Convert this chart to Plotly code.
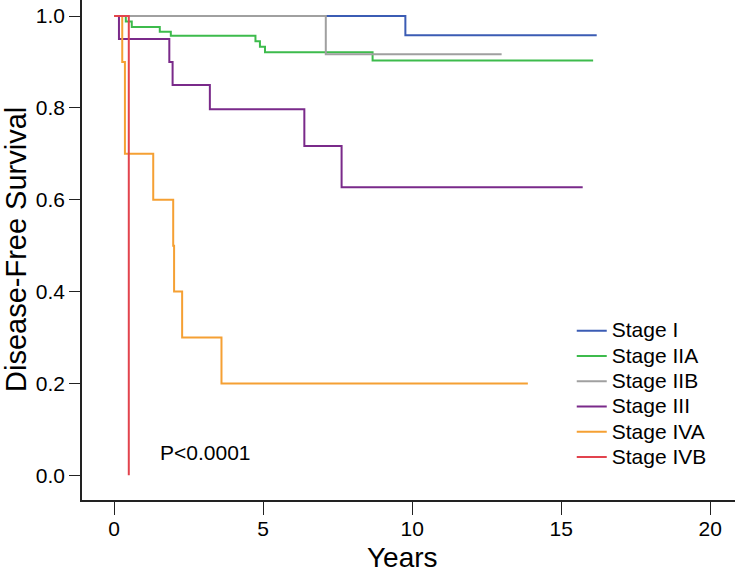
import plotly.graph_objects as go

# ---- data (Kaplan-Meier step curves) ----
stage_names = ["Stage I", "Stage IIA", "Stage IIB", "Stage III", "Stage IVA", "Stage IVB"]
stage_colors = ["#3b5cb4", "#3dbb4c", "#a0a0a0", "#7a2a8a", "#f5a033", "#e2434d"]

stage_i_years = [0, 9.77, 16.19]
stage_i_surv = [1.0, 0.958, 0.958]

stage_iia_years = [0, 0.39, 0.59, 1.53, 1.90, 4.74, 4.89, 5.06, 8.67, 16.07]
stage_iia_surv = [1.0, 0.988, 0.976, 0.966, 0.957, 0.945, 0.933, 0.921, 0.903, 0.903]

stage_iib_years = [0, 7.10, 13.0]
stage_iib_surv = [1.0, 0.917, 0.917]

stage_iii_years = [0, 0.16, 1.85, 1.96, 3.21, 6.38, 7.63, 15.72]
stage_iii_surv = [1.0, 0.95, 0.90, 0.85, 0.797, 0.717, 0.627, 0.627]

stage_iva_years = [0, 0.27, 0.36, 1.31, 1.98, 2.01, 2.28, 3.60, 13.88]
stage_iva_surv = [1.0, 0.9, 0.7, 0.6, 0.5, 0.4, 0.3, 0.2, 0.2]

stage_ivb_years = [0, 0.49]
stage_ivb_surv = [1.0, 0.0]

x_tick_vals = [0, 5, 10, 15, 20]
y_tick_vals = [0.0, 0.2, 0.4, 0.6, 0.8, 1.0]
y_tick_text = ["0.0", "0.2", "0.4", "0.6", "0.8", "1.0"]
p_value_text = "P<0.0001"
x_title = "Years"
y_title = "Disease-Free Survival"

series = [
    (stage_i_years, stage_i_surv),
    (stage_iia_years, stage_iia_surv),
    (stage_iib_years, stage_iib_surv),
    (stage_iii_years, stage_iii_surv),
    (stage_iva_years, stage_iva_surv),
    (stage_ivb_years, stage_ivb_surv),
]

FONT = "Liberation Sans, Arial, sans-serif"

fig = go.Figure()
for name, color, (xs, ys) in zip(stage_names, stage_colors, series):
    fig.add_trace(go.Scatter(
        x=xs, y=ys, mode="lines",
        name='<span style="font-size:21px">%s</span>' % name,
        line=dict(color=color, width=2, shape="hv"),
    ))

fig.add_annotation(
    x=1.48, y=0.049, xref="x", yref="y", text=p_value_text, showarrow=False,
    xanchor="left", yanchor="middle", font=dict(family=FONT, size=21, color="black"),
)
# y-axis title placed as rotated text at the left edge
fig.add_annotation(
    x=0, y=0.5, xref="paper", yref="y domain", xshift=-84, text=y_title,
    showarrow=False, textangle=-90, xanchor="left", yanchor="middle",
    font=dict(family=FONT, size=29, color="black"),
)
# x-axis title below the tick labels
fig.add_annotation(
    x=0.491, y=0, xref="paper", yref="paper", yshift=-57, text=x_title,
    showarrow=False, xanchor="center", yanchor="middle",
    font=dict(family=FONT, size=28, color="black"),
)

fig.update_layout(
    width=735, height=574,
    margin=dict(l=82, r=0, t=0, b=74, pad=0),
    paper_bgcolor="white", plot_bgcolor="white",
    font=dict(family=FONT, color="black"),
    showlegend=True,
    legend=dict(
        x=0.75, y=0.374, xanchor="left", yanchor="top",
        bgcolor="rgba(0,0,0,0)", font=dict(family=FONT, size=17.15, color="black"),
        tracegroupgap=0, itemwidth=30,
    ),
)

fig.update_xaxes(
    range=[-1.08, 20.83], tickvals=x_tick_vals, ticks="outside", ticklen=13,
    tickwidth=1.2, tickcolor="#222", showline=True, linecolor="#222", linewidth=1.5,
    showgrid=False, zeroline=False, tickfont=dict(family=FONT, size=21),
    ticklabelstandoff=-4, automargin=False,
)
fig.update_yaxes(
    range=[-0.054, 1.035], tickvals=y_tick_vals, ticktext=y_tick_text, ticks="outside",
    ticklen=11, tickwidth=1.2, tickcolor="#222", showline=True, linecolor="#222",
    linewidth=1.5, showgrid=False, zeroline=False, tickfont=dict(family=FONT, size=21),
    automargin=False,
)

fig.write_html(
    "out.html",
    config={"displayModeBar": False},
    post_script="document.body.style.margin='0';",
)
